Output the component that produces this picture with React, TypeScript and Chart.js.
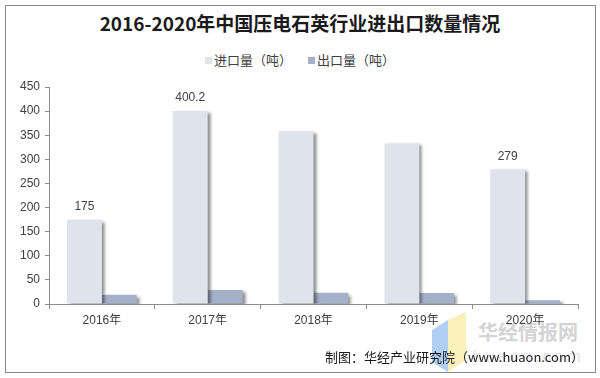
import React, { useEffect, useRef } from "react";
import { Chart, registerables } from "chart.js";

Chart.register(...registerables);

const categories = ["2016年", "2017年", "2018年", "2019年", "2020年"];
const importValues = [175, 400.2, 359, 333, 279];
const exportValues = [19, 29, 23.5, 23, 8];
const importLabels = ["175", "400.2", "", "", "279"];
const seriesNames = ["进口量（吨）", "出口量（吨）"];
const yTicks = [0, 50, 100, 150, 200, 250, 300, 350, 400, 450];

const IMPORT_COLOR = "#DFE3EC";
const EXPORT_COLOR = "#A4AFC8";
const FONT = "'Liberation Sans', Arial, 'Noto Sans CJK SC', sans-serif";

const shadowPlugin = {
  id: "barShadow",
  beforeDatasetDraw(chart: any) {
    const ctx = chart.ctx;
    ctx.save();
    ctx.shadowColor = "rgba(0,0,0,0.45)";
    ctx.shadowOffsetX = 3;
    ctx.shadowOffsetY = 2;
    ctx.shadowBlur = 3;
  },
  afterDatasetDraw(chart: any) {
    chart.ctx.restore();
  },
};

const labelPlugin = {
  id: "importLabels",
  afterDatasetsDraw(chart: any) {
    const ctx = chart.ctx;
    const meta = chart.getDatasetMeta(0);
    ctx.save();
    ctx.font = `12px ${FONT}`;
    ctx.fillStyle = "#404040";
    ctx.textAlign = "center";
    ctx.textBaseline = "middle";
    meta.data.forEach((bar: any, i: number) => {
      const t = importLabels[i];
      if (!t) return;
      ctx.fillText(t, bar.x, bar.y - 13);
    });
    ctx.restore();
  },
};

export default function App() {
  const ref = useRef<HTMLCanvasElement | null>(null);

  useEffect(() => {
    document.body.style.margin = "0";
    if (!ref.current) return;
    const chart = new Chart(ref.current, {
      type: "bar",
      data: {
        labels: categories,
        datasets: [
          {
            label: seriesNames[0],
            data: importValues,
            backgroundColor: IMPORT_COLOR,
            categoryPercentage: 0.66,
            barPercentage: 1,
          },
          {
            label: seriesNames[1],
            data: exportValues,
            backgroundColor: EXPORT_COLOR,
            categoryPercentage: 0.66,
            barPercentage: 1,
          },
        ],
      },
      options: {
        animation: false,
        responsive: false,
        maintainAspectRatio: false,
        layout: { padding: { left: 0, top: 87, right: 22, bottom: 0 } },
        plugins: {
          legend: { display: false },
          title: { display: false },
          tooltip: { enabled: false },
        },
        scales: {
          x: {
            afterFit: (s: any) => {
              s.height = 74;
            },
            grid: {
              offset: true,
              drawOnChartArea: false,
              tickLength: 5,
              color: "#8c8c8c",
            },
            border: { color: "#8c8c8c" },
            ticks: {
              padding: 4,
              color: "#404040",
              font: { size: 12, family: FONT },
            },
          },
          y: {
            min: 0,
            max: 450,
            afterFit: (s: any) => {
              s.width = 49;
            },
            afterBuildTicks: (s: any) => {
              s.ticks = yTicks.map((v) => ({ value: v }));
            },
            grid: {
              drawOnChartArea: false,
              tickLength: 4,
              color: "#8c8c8c",
            },
            border: { color: "#8c8c8c" },
            ticks: {
              padding: 5,
              color: "#404040",
              font: { size: 12, family: FONT },
            },
          },
        },
      },
      plugins: [shadowPlugin, labelPlugin],
    });
    return () => chart.destroy();
  }, []);

  return (
    <div
      style={{
        position: "absolute",
        left: 0,
        top: 0,
        width: 600,
        height: 378,
        background: "#fff",
        overflow: "hidden",
        fontFamily: FONT,
      }}
    >
      <div
        style={{
          position: "absolute",
          left: 5,
          top: 5,
          width: 589,
          height: 366,
          border: "1px solid #8a8a8a",
        }}
      />
      <div
        style={{
          position: "absolute",
          left: 0,
          top: 9,
          width: 600,
          textAlign: "center",
          fontSize: 19,
          fontWeight: "bold",
          color: "#1a1a1a",
          fontFamily: "'Noto Sans CJK SC', 'DejaVu Serif', serif",
        }}
      >
        2016-2020年中国压电石英行业进出口数量情况
      </div>
      <div
        style={{
          position: "absolute",
          left: 0,
          top: 51,
          width: 600,
          display: "flex",
          justifyContent: "center",
          gap: 16,
          fontSize: 13,
          color: "#404040",
          fontFamily: "'Noto Sans CJK SC', sans-serif",
          lineHeight: "18px",
        }}
      >
        {[IMPORT_COLOR, EXPORT_COLOR].map((c, i) => (
          <div key={i} style={{ display: "flex", alignItems: "center" }}>
            <span
              style={{
                display: "inline-block",
                width: 7,
                height: 7,
                background: c,
                marginRight: 2,
              }}
            />
            <span>{seriesNames[i]}</span>
          </div>
        ))}
      </div>
      <svg
        width={600}
        height={378}
        style={{ position: "absolute", left: 0, top: 0 }}
      >
        <polygon points="432,330 448,320 448,372 432,362" fill="#a9c9f2" opacity={0.9} />
        <polygon points="448,320 466,312 466,360 448,372" fill="#f8eeb2" opacity={0.9} />
        <text
          x={528}
          y={340}
          textAnchor="middle"
          fontSize={20}
          fontWeight="bold"
          fill="#d4d4d4"
          fontFamily="'Noto Sans CJK SC', sans-serif"
        >
          华经情报网
        </text>
        <text
          x={528}
          y={362}
          textAnchor="middle"
          fontSize={17}
          fill="#e2e2e2"
          fontFamily="'Liberation Sans', sans-serif"
          letterSpacing={3}
        >
          huaon.com
        </text>
      </svg>
      <canvas
        ref={ref}
        width={600}
        height={378}
        style={{ position: "absolute", left: 0, top: 0, width: 600, height: 378 }}
      />
      <div
        style={{
          position: "absolute",
          right: 16,
          top: 348,
          fontSize: 13,
          color: "#1a1a1a",
          fontFamily: "'Noto Sans CJK SC', sans-serif",
          lineHeight: "18px",
          whiteSpace: "nowrap",
        }}
      >
        制图：华经产业研究院（www.huaon.com）
      </div>
    </div>
  );
}
